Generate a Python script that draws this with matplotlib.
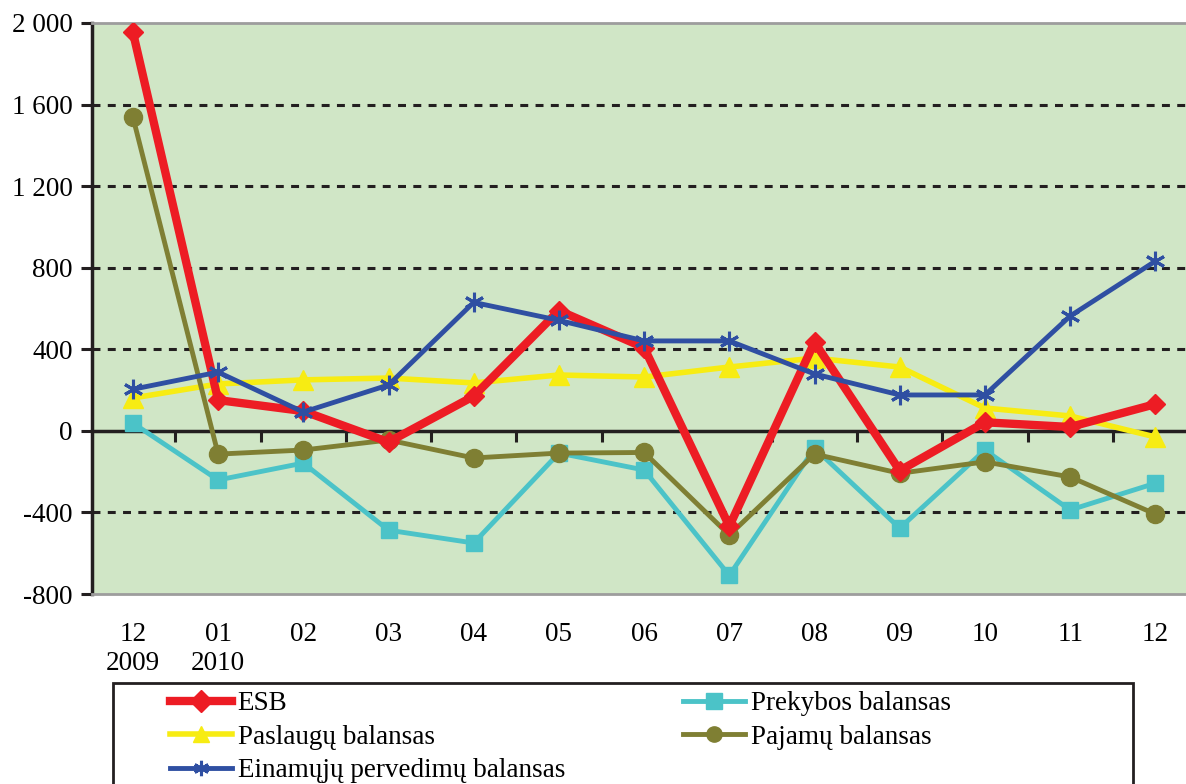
import matplotlib
matplotlib.use("Agg")
import matplotlib.pyplot as plt
from matplotlib.patches import Rectangle
import numpy as np

plt.rcParams['font.family'] = ['Liberation Serif', 'DejaVu Serif']

months = ['12\n2009', '01\n2010', '02', '03', '04', '05', '06', '07', '08', '09', '10', '11', '12']
esb = [1955, 151, 97, -55, 170, 590, 408, -468, 435, -195, 42, 19, 131]
prekybos = [38, -241, -158, -487, -550, -109, -192, -709, -85, -477, -94, -388, -257]
paslaugu = [161, 230, 250, 259, 235, 274, 264, 313, 357, 313, 112, 73, -30]
pajamu = [1539, -114, -94, -45, -133, -109, -106, -511, -114, -208, -152, -226, -408]
einamuju = [204, 288, 92, 225, 630, 542, 441, 441, 279, 176, 176, 563, 832]
yticks = [-800, -400, 0, 400, 800, 1200, 1600, 2000]
ylabels = ['-800', '-400', '0', '400', '800', '1 200', '1 600', '2 000']

fs = 19.5
fig = plt.figure(figsize=(11.86, 7.84), dpi=100)
ax = fig.add_axes([92/1186, 1-594/784, 1-92/1186, (594-23)/784])
ax.set_facecolor('#d0e6c6')
x = np.arange(len(months))

for v in [-400, 400, 800, 1200, 1600]:
    ax.axhline(v, color='#231f20', lw=2.2, ls=(0, (2.6, 2.4)), zorder=1)

l_esb, = ax.plot(x, esb, color='#ed1c24', lw=6, marker='D', ms=10, zorder=5, label='ESB')
l_pre, = ax.plot(x, prekybos, color='#4bc3c8', lw=3.5, marker='s', ms=12, zorder=3,
                 label='Prekybos balansas')
l_pas, = ax.plot(x, paslaugu, color='#f7ec13', lw=4, marker='^', ms=15, zorder=4,
                 label='Paslaugų balansas')
l_paj, = ax.plot(x, pajamu, color='#7f7f33', lw=3.5, marker='o', ms=13, zorder=4,
                 label='Pajamų balansas')
l_ein, = ax.plot(x, einamuju, color='#2f4fa2', lw=3.5, marker=(6, 2, 0), ms=14, mew=2.2,
                 zorder=6, label='Einamųjų pervedimų balansas')

ax.set_xlim(-0.48, 12.36)
ax.set_ylim(-800, 2000)
ax.set_yticks(yticks)
ax.set_yticklabels(ylabels, fontsize=fs)
ax.set_xticks(x)
ax.set_xticklabels(months, fontsize=fs, linespacing=1.2)
ax.tick_params(axis='x', length=0, pad=20)
ax.tick_params(axis='y', length=8, width=2.2, pad=6, color='#231f20')

for s in ['top', 'bottom']:
    ax.spines[s].set_color('#9d9d9d')
    ax.spines[s].set_linewidth(2)
ax.spines['right'].set_visible(False)
ax.spines['left'].set_linewidth(2.5)
ax.spines['left'].set_color('#231f20')

# zero line with category boundary ticks
zero = ax.secondary_xaxis(800/2800)
zero.set_xticks(np.arange(0.5, 12, 1))
zero.set_xticklabels([])
zero.tick_params(axis='x', direction='out', length=8, width=2.2, color='#231f20')
zero.spines['bottom'].set_linewidth(2.5)
zero.spines['bottom'].set_color('#231f20')

# legend box (cut by the bottom edge of the picture)
fig.patches.append(Rectangle((113/1186, -0.05), (1133-113)/1186, 0.05 + 1-683/784,
                             transform=fig.transFigure, fill=False,
                             edgecolor='#231f20', lw=2))
handles = [l_esb, l_pas, l_ein, l_pre, l_paj]
leg = fig.legend(handles, [h.get_label() for h in handles],
                 loc='upper left', bbox_to_anchor=(170/1186, 1-691/784),
                 ncol=2, fontsize=fs, frameon=False,
                 handlelength=2.3, handletextpad=0.2, labelspacing=0.32, borderpad=0,
                 borderaxespad=0, columnspacing=4.35)
for h in leg.legend_handles:
    h.set_markersize(11)

fig.savefig('out.png', dpi=100)
